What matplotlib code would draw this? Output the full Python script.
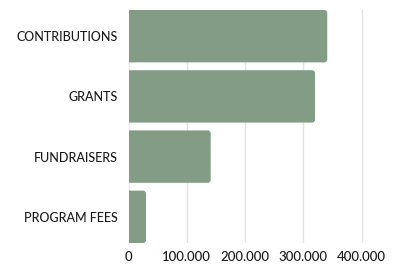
import matplotlib
matplotlib.use("Agg")
import matplotlib.pyplot as plt
from matplotlib.patches import FancyBboxPatch
from matplotlib.ticker import FuncFormatter

categories = ["CONTRIBUTIONS", "GRANTS", "FUNDRAISERS", "PROGRAM FEES"]
values = [341000, 320000, 141000, 30000]
xticks = [0, 100000, 200000, 300000, 400000]

plt.rcParams['font.family'] = ['Lato', 'DejaVu Sans']

W, H = 398, 264
fig = plt.figure(figsize=(W / 100, H / 100), dpi=100)
left, right, top, bottom = 128.5, 390.8, 10, 243
ax = fig.add_axes([left / W, 1 - bottom / H, (right - left) / W, (bottom - top) / H])

xmax = 450000
bar_h = 0.87
ax.set_xlim(0, xmax)
ax.set_ylim(len(categories) - 1 + bar_h / 2, -bar_h / 2)

px_x = xmax / (right - left)
px_y = (len(categories) - 1 + bar_h) / (bottom - top)
r_px = 3.0
color = "#829c86"
for i, v in enumerate(values):
    rs = r_px * px_x
    p = FancyBboxPatch((-rs * 2, i - bar_h / 2), v + rs * 2, bar_h,
                       boxstyle=f"round,pad=0,rounding_size={rs}",
                       mutation_aspect=px_y / px_x,
                       facecolor=color, edgecolor="none", zorder=3, clip_on=True)
    ax.add_patch(p)

ax.set_yticks(range(len(categories)))
ax.set_yticklabels(categories, fontweight="medium")
ax.set_xticks(xticks)
ax.xaxis.set_major_formatter(FuncFormatter(lambda x, _: f"{int(x):,}".replace(",", ".")))
for lbl in ax.get_xticklabels():
    lbl.set_fontweight("medium")
ax.grid(axis="x", color="#e3e3e3", linewidth=1, zorder=0)
ax.set_axisbelow(True)
for s in ax.spines.values():
    s.set_visible(False)
ax.tick_params(axis="both", length=0, labelcolor="#1a1a1a")
ax.tick_params(axis="y", pad=7.5, labelsize=9)
ax.tick_params(axis="x", pad=6, labelsize=9.5)

fig.savefig("out.png", dpi=100)
